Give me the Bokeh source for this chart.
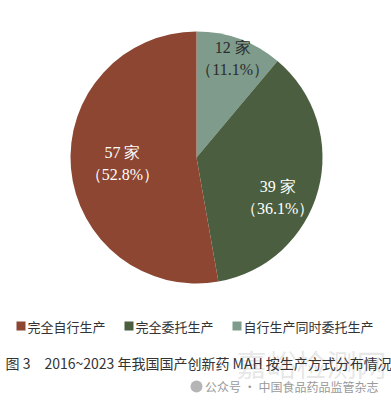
import math
from bokeh.plotting import figure
from bokeh.models import ColumnDataSource, Range1d
from bokeh.core.properties import value
from bokeh.embed import file_html
from bokeh.resources import INLINE

# data (clockwise from 12 o'clock)
categories = ["自行生产同时委托生产", "完全委托生产", "完全自行生产"]
counts = [12, 39, 57]
pct_labels = ["11.1%", "36.1%", "52.8%"]
colors = ["#7E9B8B", "#4B5F40", "#8C4632"]
legend_order = ["完全自行生产", "完全委托生产", "自行生产同时委托生产"]

W, H = 391, 404
p = figure(width=W, height=H, output_backend="svg", toolbar_location=None,
           x_range=Range1d(0, W), y_range=Range1d(0, H), min_border=0)
p.axis.visible = False
p.grid.visible = False
p.outline_line_color = None
p.background_fill_color = "white"

cx, cy, r = 196, H - 157, 126
total = sum(counts)
starts, ends, mids = [], [], []
acc = 0.0
for c in counts:
    a0 = math.pi / 2 - acc / total * 2 * math.pi
    acc += c
    a1 = math.pi / 2 - acc / total * 2 * math.pi
    starts.append(a0); ends.append(a1); mids.append((a0 + a1) / 2)

src = ColumnDataSource(dict(start=starts, end=ends, color=colors))
p.wedge(x=cx, y=cy, radius=r, start_angle="start", end_angle="end",
        direction="clock", fill_color="color", line_color=None, source=src)

# labels
rad_frac = [0.84, 0.72, 0.59]
ang_adj = [0.0, -0.2, 0.0]
txt_colors = ["#2b2b2b", "white", "white"]
for i in range(3):
    a = mids[i] + ang_adj[i]
    lx = cx + r * rad_frac[i] * math.cos(a)
    ly = cy + r * rad_frac[i] * math.sin(a)
    p.text(x=[lx], y=[ly + 11], text=[f"{counts[i]} 家"], text_align="center",
           text_baseline="middle", text_font=value("Liberation Serif"),
           text_font_size="16px", text_color=txt_colors[i])
    p.text(x=[lx], y=[ly - 11], text=[f"（{pct_labels[i]}）"], text_align="center",
           text_baseline="middle", text_font=value("Liberation Serif"),
           text_font_size="16px", text_color=txt_colors[i])

# legend
leg_x = [16, 124, 232]
leg_y = H - 325.5
for i, name in enumerate(legend_order):
    col = colors[categories.index(name)]
    p.rect(x=[leg_x[i] + 4.5], y=[leg_y], width=9, height=9, fill_color=col, line_color=None)
    p.text(x=[leg_x[i] + 11], y=[leg_y], text=[name], text_align="left",
           text_baseline="middle", text_font=value("Noto Sans CJK SC"),
           text_font_size="13px", text_color="#333333")

# faint watermark
p.text(x=[386], y=[H - 362], text=["嘉峪检测网"], text_align="right",
       text_baseline="middle", text_font=value("Noto Sans CJK SC"),
       text_font_size="30px", text_color="#d8d8d8", text_alpha=0.6)

# caption
p.text(x=[5], y=[H - 362], text=["图 3　2016~2023 年我国国产创新药 MAH 按生产方式分布情况"],
       text_align="left", text_baseline="middle", text_font=value("Noto Sans CJK SC"),
       text_font_size="14px", text_color="#333333")

# source watermark
p.circle(x=[196], y=[H - 386], radius=6, fill_color="#b5b5b5", line_color=None)
p.text(x=[378], y=[H - 386], text=["公众号 · 中国食品药品监管杂志"], text_align="right",
       text_baseline="middle", text_font=value("Noto Sans CJK SC"),
       text_font_size="12px", text_color="#9a9a9a")

open("out.html", "w").write(file_html(p, INLINE))
